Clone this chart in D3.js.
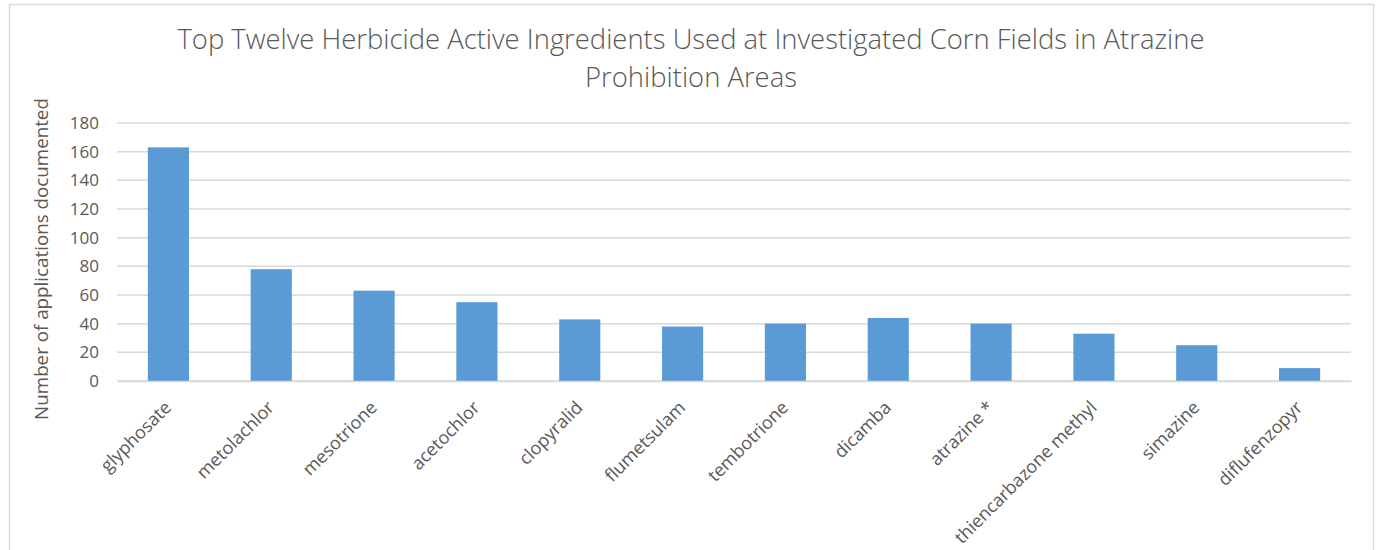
<!DOCTYPE html>
<html>
<head>
<meta charset="utf-8">
<script src="https://cdn.jsdelivr.net/npm/d3@7"></script>
<style>
  body { margin: 0; background: #fff; }
  svg { display: block; font-family: "Open Sans", "Noto Sans", sans-serif; }
</style>
</head>
<body>
<div id="chart"></div>
<script>
const categories = ['glyphosate', 'metolachlor', 'mesotrione', 'acetochlor', 'clopyralid', 'flumetsulam',
  'tembotrione', 'dicamba', 'atrazine *', 'thiencarbazone methyl', 'simazine', 'diflufenzopyr'];
const applications = [163, 78, 63, 55, 43, 38, 40, 44, 40, 33, 25, 9];
const yTicks = [0, 20, 40, 60, 80, 100, 120, 140, 160, 180];
const titleLines = ['Top Twelve Herbicide Active Ingredients Used at Investigated Corn Fields in Atrazine',
  'Prohibition Areas'];
const yLabel = 'Number of applications documented';

const W = 1377, H = 550;
const margin = { top: 123, right: 26, bottom: 169, left: 117 };
const width = W - margin.left - margin.right,
  height = H - margin.top - margin.bottom;

// scale a text node's font so its length matches a target width
const fitText = (sel, base, target) => {
  const len = sel.node().getComputedTextLength();
  return base * target / len;
};

const svg = d3.select('#chart').append('svg')
  .attr('width', W).attr('height', H);

// chart frame
svg.append('rect')
  .attr('x', 9.5).attr('y', 4.5)
  .attr('width', 1364).attr('height', 600)
  .attr('fill', '#fff').attr('stroke', '#d9d9d9').attr('stroke-width', 1.5);

const g = svg.append('g').attr('transform', `translate(${margin.left},${margin.top})`);

const x = d3.scaleBand().domain(categories).range([0, width]).paddingInner(0.6).paddingOuter(0.3);
const y = d3.scaleLinear().domain([0, 180]).range([height, 0]);

// gridlines
g.append('g')
  .selectAll('line')
  .data(yTicks)
  .enter()
  .append('line')
  .attr('x1', 0).attr('x2', width)
  .attr('y1', d => y(d)).attr('y2', d => y(d))
  .attr('stroke', '#d9d9d9').attr('stroke-width', 1.5);

// y axis labels
const yAxis = d3.axisLeft(y).tickValues(yTicks).tickSize(0).tickPadding(18);
g.append('g')
  .call(yAxis)
  .call(a => a.select('.domain').remove())
  .call(a => a.selectAll('.tick text')
    .attr('fill', '#595959').style('font-size', '17px').style('font-family', '"Open Sans", sans-serif'));

// bars
g.append('g')
  .selectAll('rect')
  .data(applications)
  .enter()
  .append('rect')
  .attr('x', (d, i) => x(categories[i]))
  .attr('y', d => y(d))
  .attr('width', x.bandwidth())
  .attr('height', d => y(0) - y(d))
  .attr('fill', '#5b9bd5');

// x axis
const xAxis = d3.axisBottom(x).tickSize(0).tickPadding(0);
const xg = g.append('g')
  .attr('transform', `translate(0,${height})`)
  .call(xAxis)
  .call(a => a.select('.domain').attr('stroke', '#d9d9d9').attr('stroke-width', 1.5));
const xText = xg.selectAll('.tick text')
  .attr('fill', '#595959')
  .style('font-family', '"Open Sans", sans-serif')
  .style('font-size', '16px')
  .attr('text-anchor', 'end')
  .attr('y', 0)
  .attr('dy', 0);
const xFont = fitText(xg.select('.tick text'), 16, 91);
xText.style('font-size', xFont.toFixed(2) + 'px')
  .attr('transform', `translate(4,${21 + xFont * 0.37}) rotate(-45)`);

// y axis title
const yTitle = svg.append('text')
  .attr('transform', `translate(48,259) rotate(-90)`)
  .attr('text-anchor', 'middle')
  .attr('fill', '#595959')
  .style('font-size', '17px')
  .text(yLabel);
yTitle.style('font-size', fitText(yTitle, 17, 322).toFixed(2) + 'px');

// title
const title = svg.append('text')
  .attr('text-anchor', 'middle')
  .attr('fill', '#595959')
  .style('font-size', '24px')
  .style('font-weight', 300);
title.selectAll('tspan')
  .data(titleLines)
  .enter()
  .append('tspan')
  .attr('x', 691)
  .attr('y', (d, i) => 49 + i * 38)
  .text(d => d);
// fit first title line to reference width
title.style('font-size', fitText(title.select('tspan'), 24, 1027).toFixed(2) + 'px');
</script>
</body>
</html>
